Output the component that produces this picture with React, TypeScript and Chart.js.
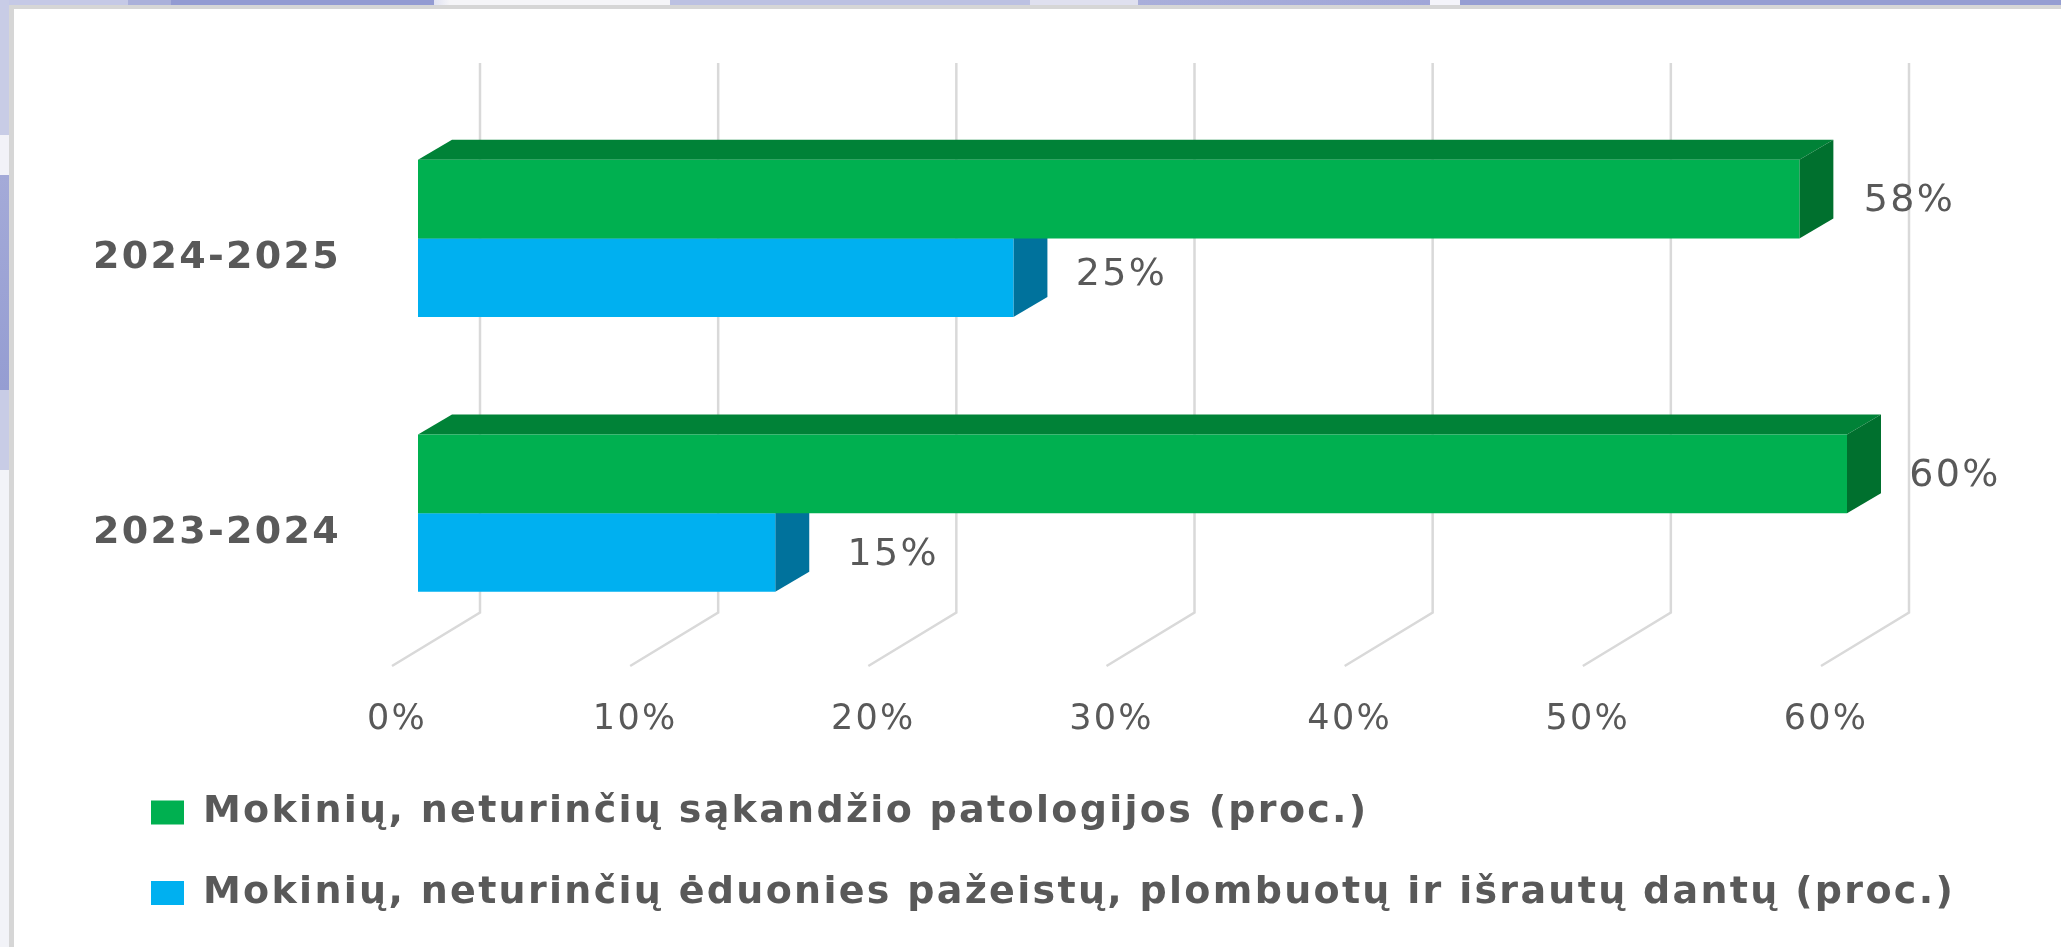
import React, { useEffect, useRef } from "react";
import { Chart, registerables } from "chart.js";

Chart.register(...registerables);

const categories = ["2024-2025", "2023-2024"];
const seriesNames = [
  "Mokinių, neturinčių sąkandžio patologijos (proc.)",
  "Mokinių, neturinčių ėduonies pažeistų, plombuotų ir išrautų dantų (proc.)",
];
const biteValues = [58, 60];
const cavityValues = [25, 15];
const xTicks = [0, 10, 20, 30, 40, 50, 60];

const GREEN = { front: "#00b050", top: "#008237", side: "#00702e" };
const BLUE = { front: "#00b0f0", top: "#0088bb", side: "#00729c" };
const TEXT = "#595959";
const FACES = [GREEN, BLUE];
const DEPTH_X = 34;
const DEPTH_Y = 20;
const WALL_X = 62;
const FLOOR_X = -26;
const WALL_TOP = 63;
const WALL_BOTTOM = 612.5;
const FLOOR_Y = 666;
const LETTER_SPACING = "2.3px";
const LABEL_NUDGE_X = [[0, -2], [-2, 8]];
const LABEL_NUDGE_Y = [[2, 2], [-3, 3]];

const poly = (ctx: CanvasRenderingContext2D, pts: number[][], fill: string) => {
  ctx.beginPath();
  pts.forEach(([x, y], i) => (i ? ctx.lineTo(x, y) : ctx.moveTo(x, y)));
  ctx.closePath();
  ctx.fillStyle = fill;
  ctx.fill();
};

const spacingPlugin = {
  id: "spacing",
  beforeDraw(chart: any) {
    chart.ctx.letterSpacing = LETTER_SPACING;
    // category labels and the long legend line reach past their layout boxes
    chart.scales.y.left = 14;
    chart.legend.right = chart.width;
    chart.legend.width = chart.width - chart.legend.left;
  },
  afterDraw(chart: any) {
    chart.ctx.letterSpacing = "0px";
  },
};

const wallPlugin = {
  id: "wall",
  beforeDatasetsDraw(chart: any) {
    const { ctx, scales } = chart;
    ctx.save();
    ctx.strokeStyle = "#d9d9d9";
    ctx.lineWidth = 2.5;
    xTicks.forEach((t) => {
      const x = scales.x.getPixelForValue(t);
      ctx.beginPath();
      ctx.moveTo(x + WALL_X, WALL_TOP);
      ctx.lineTo(x + WALL_X, WALL_BOTTOM);
      ctx.lineTo(x + FLOOR_X, FLOOR_Y);
      ctx.stroke();
    });
    [1, 0].forEach((d) => {
      const face = FACES[d];
      chart.getDatasetMeta(d).data.forEach((bar: any) => {
        const p = bar.getProps(["x", "y", "base", "height"], true);
        const top = p.y - p.height / 2;
        const bottom = p.y + p.height / 2;
        poly(ctx, [[p.base, top], [p.base + DEPTH_X, top - DEPTH_Y], [p.x + DEPTH_X, top - DEPTH_Y], [p.x, top]], face.top);
        poly(ctx, [[p.x, top], [p.x + DEPTH_X, top - DEPTH_Y], [p.x + DEPTH_X, bottom - DEPTH_Y], [p.x, bottom]], face.side);
      });
    });
    ctx.restore();
  },
};

const valueLabelPlugin = {
  id: "valueLabels",
  afterDatasetsDraw(chart: any) {
    const { ctx } = chart;
    ctx.save();
    ctx.font = '38px "DejaVu Sans"';
    ctx.fillStyle = TEXT;
    ctx.textAlign = "center";
    ctx.textBaseline = "middle";
    chart.data.datasets.forEach((ds: any, d: number) => {
      chart.getDatasetMeta(d).data.forEach((bar: any, i: number) => {
        const p = bar.getProps(["x", "y"], true);
        ctx.fillText(`${ds.data[i]}%`, p.x + 110 + LABEL_NUDGE_X[d][i], p.y + LABEL_NUDGE_Y[d][i]);
      });
    });
    ctx.restore();
  },
};

export default function App() {
  const ref = useRef<HTMLCanvasElement>(null);
  useEffect(() => {
    const chart = new Chart(ref.current!, {
      type: "bar",
      data: {
        labels: categories,
        datasets: [
          { label: seriesNames[0], data: biteValues, backgroundColor: GREEN.front, borderWidth: 0 },
          { label: seriesNames[1], data: cavityValues, backgroundColor: BLUE.front, borderWidth: 0 },
        ],
      },
      options: {
        indexAxis: "y",
        animation: false,
        responsive: false,
        layout: { padding: { left: 108.6, right: 214, top: 101, bottom: 25 } },
        datasets: { bar: { barPercentage: 1, categoryPercentage: 0.572 } },
        scales: {
          x: {
            min: 0,
            max: 60,
            grid: { display: false },
            border: { display: false },
            ticks: {
              stepSize: 10,
              padding: 40,
              labelOffset: -21,
              maxRotation: 0,
              autoSkip: false,
              color: TEXT,
              font: { family: "DejaVu Sans", size: 35 },
              callback: (v: any) => `${v}%`,
            },
            afterFit: (s: any) => {
              s.height = 100.6;
            },
          },
          y: {
            grid: { display: false },
            border: { display: false },
            ticks: {
              padding: 69,
              labelOffset: 20,
              color: TEXT,
              font: { family: "DejaVu Sans", size: 38, weight: "bold" },
            },
            afterFit: (s: any) => {
              s.width = 309.4;
            },
          },
        },
        plugins: {
          tooltip: { enabled: false },
          legend: {
            position: "bottom",
            align: "start",
            labels: {
              boxWidth: 33,
              boxHeight: 24,
              padding: 42.4,
              color: TEXT,
              font: { family: "DejaVu Sans", size: 38, weight: "bold" },
            },
          },
        },
      } as any,
      plugins: [spacingPlugin, wallPlugin, valueLabelPlugin],
    });
    return () => chart.destroy();
  }, []);

  return (
    <div style={{ position: "fixed", left: 0, top: 0, width: 2061, height: 947, overflow: "hidden", background: "#ffffff" }}>
      <div
        style={{
          position: "absolute", left: 0, top: 0, width: 2061, height: 5,
          background:
            "linear-gradient(to right,#c5c9e6 0,#c5c9e6 128px,#aab0da 128px,#aab0da 171px,#939bd2 171px,#939bd2 434px,#e0e2f2 434px,#f5f5f8 450px,#f5f5f8 670px,#bcc1e2 670px,#bcc1e2 1030px,#dfe0ef 1030px,#dfe0ef 1138px,#a9aeda 1138px,#a0a6d8 1430px,#f4f4fa 1430px,#f4f4fa 1460px,#959dd2 1460px,#959dd2 2061px)",
        }}
      />
      <div
        style={{
          position: "absolute", left: 0, top: 0, width: 9, height: 947,
          background:
            "linear-gradient(to bottom,#c8cce6 0,#c8cce6 135px,#f2f2f8 135px,#f2f2f8 175px,#a4aad8 175px,#959dd2 390px,#c8cce6 390px,#c8cce6 470px,#f2f3f8 470px,#f2f3f8 947px)",
        }}
      />
      <div style={{ position: "absolute", left: 9, top: 5, right: 0, bottom: 0, background: "#d6d6d6" }} />
      <div style={{ position: "absolute", left: 14, top: 9, right: 0, bottom: 0, background: "#ffffff" }} />
      <canvas ref={ref} width={2061} height={947} style={{ position: "absolute", left: 0, top: 0, filter: "blur(0.6px)" }} />
    </div>
  );
}
